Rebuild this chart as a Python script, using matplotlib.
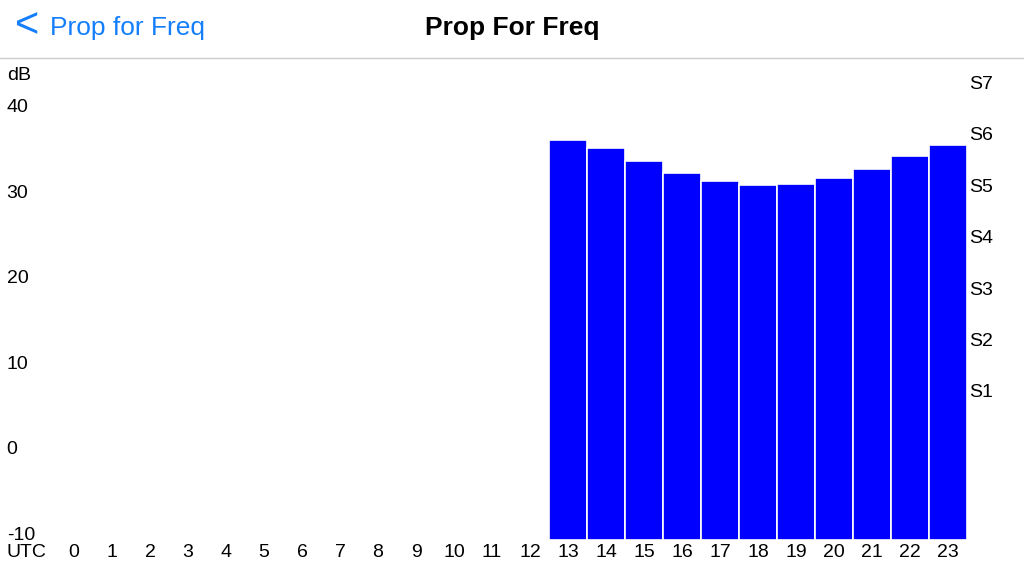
import matplotlib
matplotlib.use("Agg")
import matplotlib.pyplot as plt

hours = list(range(24))
values = [None]*13 + [36.7, 35.8, 34.3, 32.9, 31.9, 31.5, 31.6, 32.3, 33.3, 34.9, 36.1]
ytick_vals = [40, 30, 20, 10, 0, -10]
s_labels = ["S1", "S2", "S3", "S4", "S5", "S6", "S7"]
s_vals = [7.2, 13.2, 19.2, 25.2, 31.2, 37.2, 43.2]

plt.rcParams['font.family'] = ['Liberation Sans', 'DejaVu Sans']
fig = plt.figure(figsize=(10.24, 5.76), dpi=100)
fig.patch.set_facecolor('white')
fig.text(0.5, 1 - 28/576, "Prop For Freq", ha='center', va='center', fontsize=19, fontweight='bold')
fig.text(50/1024, 1 - 28/576, "Prop for Freq", ha='left', va='center', fontsize=19, color='#157EFB')
fig.text(15/1024, 1 - 26/576, "<", ha='left', va='center', fontsize=30, color='#157EFB')
fig.add_artist(plt.Line2D([0, 1], [1 - 58/576]*2, color='#cccccc', lw=1))

ax = fig.add_axes([55/1024, 36/576, 912/1024, 480/576])
ax.set_xlim(-0.5, 23.5)
ax.set_ylim(-10, 46.07)
ax.axis('off')
xs = [h for h, v in zip(hours, values) if v is not None]
hs = [v + 10 for v in values if v is not None]
ax.bar(xs, hs, bottom=-10, width=1.0, color='#0000FF', edgecolor='white', linewidth=1.2)

tr = ax.get_yaxis_transform()
for v in ytick_vals:
    ax.text(-0.053, v, str(v), transform=tr, ha='left', va='baseline', fontsize=14, clip_on=False)
ax.text(-0.053, 43.7, "dB", transform=tr, ha='left', va='baseline', fontsize=14, clip_on=False)
for s, v in zip(s_labels, s_vals):
    ax.text(1.002, v, s, transform=tr, ha='left', va='center', fontsize=14, clip_on=False)
for h in hours:
    ax.text(h, -11.5, str(h), ha='center', va='center', fontsize=14, clip_on=False)
ax.text(-1.25, -11.5, "UTC", ha='center', va='center', fontsize=14, clip_on=False)

fig.savefig("out.png", dpi=100)
